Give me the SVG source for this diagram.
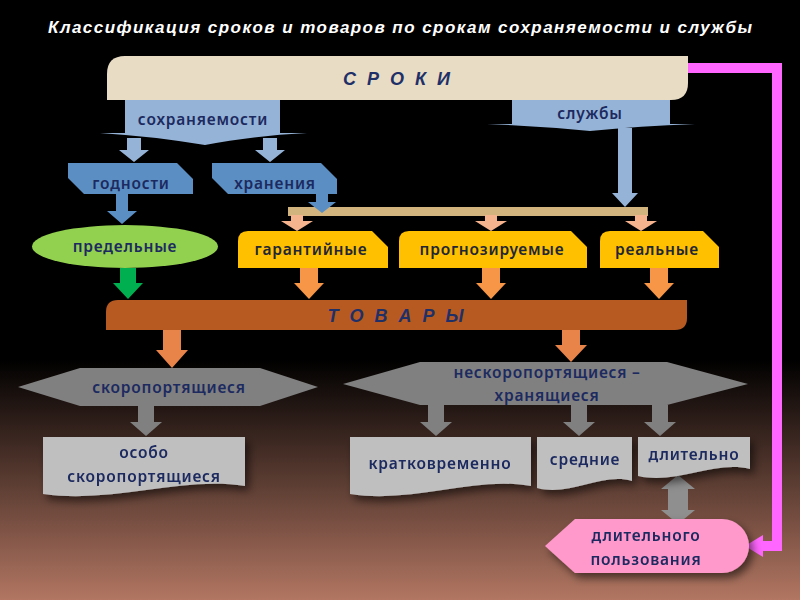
<svg xmlns="http://www.w3.org/2000/svg" width="800" height="600" viewBox="0 0 800 600">
<defs>
<linearGradient id="bg" x1="0" y1="0" x2="0" y2="1">
<stop offset="0" stop-color="#000"/>
<stop offset="0.6" stop-color="#000"/>
<stop offset="1" stop-color="#b27662"/>
</linearGradient>
<filter id="sh" x="-20%" y="-20%" width="150%" height="160%">
<feDropShadow dx="4" dy="5" stdDeviation="4" flood-color="#000" flood-opacity="0.55"/>
</filter>
<style>
.t{font-family:"Noto Sans","Open Sans",sans-serif;font-size:15.5px;font-weight:600;letter-spacing:0.8px;fill:#1c2a60;text-anchor:middle}
.ty{font-family:"Noto Sans","Open Sans",sans-serif;font-size:15.5px;font-weight:600;letter-spacing:0.8px;fill:#222634;text-anchor:middle}
.h{font-family:"Liberation Sans",Arial,sans-serif;font-size:18px;font-style:italic;font-weight:bold;fill:#1f3068;text-anchor:middle;letter-spacing:3px}
.lb{fill:#95b3d7}
.db{fill:#5b8fc4}
.pe{fill:#f5b48e}
.or{fill:#f79646}
.or2{fill:#e8844a}
.gr{fill:#808080}
.lg{fill:#bfbfbf}
.yl{fill:#ffc000}
</style>
</defs>
<rect x="0" y="0" width="800" height="600" fill="url(#bg)"/>
<text x="400" y="33" textLength="704" lengthAdjust="spacing" font-family="'Liberation Sans',Arial,sans-serif" font-size="17" font-weight="bold" font-style="italic" fill="#fff" text-anchor="middle">Классификация сроков и товаров по срокам сохраняемости и службы</text>

<g id="connectors">
<path d="M688,68 H777 V546 H762" fill="none" stroke="#ff66ff" stroke-width="10"/>
<polygon points="763,535 763,557 745,546" fill="#ff66ff"/>
<path class="lb" d="M127,138 L141,138 L141,150 L149,150 L134,162 L119,150 L127,150 Z"/>
<path class="lb" d="M263,138 L277,138 L277,150 L285,150 L270,162 L255,150 L263,150 Z"/>
<path class="lb" d="M618,128 L632,128 L632,193 L638,193 L625,207 L612,193 L618,193 Z"/>
<path class="db" d="M116,194 L128,194 L128,211 L137,211 L122,224 L107,211 L116,211 Z"/>
<rect x="288" y="207" width="360" height="9" fill="#d2b47f"/>
<path class="db" d="M316,194 L328,194 L328,202 L336,202 L322,213 L308,202 L316,202 Z"/>
<path class="pe" d="M291,215 L303,215 L303,221 L313,221 L297,231 L281,221 L291,221 Z"/>
<path class="pe" d="M485,215 L497,215 L497,221 L507,221 L491,231 L475,221 L485,221 Z"/>
<path class="pe" d="M635,215 L647,215 L647,221 L657,221 L641,231 L625,221 L635,221 Z"/>
<path fill="#00b050" d="M120,268 L136,268 L136,283 L143,283 L128,299 L113,283 L120,283 Z"/>
<path class="or" d="M300,268 L318,268 L318,283 L324,283 L309,299 L294,283 L300,283 Z"/>
<path class="or" d="M482,268 L500,268 L500,283 L506,283 L491,299 L476,283 L482,283 Z"/>
<path class="or" d="M650,268 L668,268 L668,283 L674,283 L659,299 L644,283 L650,283 Z"/>
<path class="or2" d="M163,330 L181,330 L181,350 L188,350 L172,368 L156,350 L163,350 Z"/>
<path class="or2" d="M562,330 L580,330 L580,345 L587,345 L571,362 L555,345 L562,345 Z"/>
<path class="gr" d="M138,406 L154,406 L154,422 L162,422 L146,436 L130,422 L138,422 Z"/>
<path class="gr" d="M428,405 L444,405 L444,422 L452,422 L436,436 L420,422 L428,422 Z"/>
<path class="gr" d="M571,405 L587,405 L587,422 L595,422 L579,436 L563,422 L571,422 Z"/>
<path class="gr" d="M652,405 L668,405 L668,422 L676,422 L660,436 L644,422 L652,422 Z"/>
<path fill="#8f8f8f" d="M678,475 L695,489 L688,489 L688,510 L695,510 L678,524 L661,510 L668,510 L668,489 L661,489 Z"/>
</g>

<g id="sroki">
<path d="M107,100 L107,74 Q107,56 125,56 L688,56 L688,83 Q688,100 671,100 Z" fill="#e8dcc4"/>
<text class="h" x="398" y="85">С Р О К И</text>
</g>
<g id="sohr">
<path class="lb" d="M125,100 H280 V133 H307 Q250,136 205,145 Q150,136 100,133 H125 Z"/>
<text class="t" x="203" y="125">сохраняемости</text>
</g>
<g id="sluzhby">
<path class="lb" d="M512,100 H670 V124 H695 Q640,126 590,131 Q540,126 487,124 H512 Z"/>
<text class="t" x="590" y="119">службы</text>
</g>
<g id="godnosti">
<polygon class="db" points="68,163 177,163 193,179 193,194 84,194 68,178"/>
<text class="t" x="131" y="189">годности</text>
</g>
<g id="hranenia">
<polygon class="db" points="212,163 321,163 337,179 337,194 228,194 212,178"/>
<text class="t" x="275" y="189">хранения</text>
</g>
<g id="predelnye">
<ellipse cx="125" cy="246.5" rx="93" ry="21.5" fill="#92d050"/>
<text class="t" x="125" y="252">предельные</text>
</g>
<g id="garant">
<path class="yl" d="M238,268 V241 Q238,231 248,231 H372 L388,247 V268 Z"/>
<text class="ty" x="311" y="255">гарантийные</text>
</g>
<g id="prognoz">
<path class="yl" d="M399,268 V241 Q399,231 409,231 H571 L587,247 V268 Z"/>
<text class="ty" x="492" y="255">прогнозируемые</text>
</g>
<g id="realnye">
<path class="yl" d="M600,268 V241 Q600,231 610,231 H703 L719,247 V268 Z"/>
<text class="ty" x="657" y="255">реальные</text>
</g>
<g id="tovary">
<path d="M106,330 V312 Q106,300 118,300 H687 V318 Q687,330 675,330 Z" fill="#b75a22"/>
<text class="h" x="397" y="322">Т О В А Р Ы</text>
</g>
<g id="skoro">
<polygon class="gr" points="18,387 80,368 260,368 318,387 260,406 80,406"/>
<text class="t" x="169" y="393">скоропортящиеся</text>
</g>
<g id="neskoro">
<polygon class="gr" points="343,384 420,362 667,362 748,384 667,405 420,405"/>
<text class="t" x="547" y="378">нескоропортящиеся –</text>
<text class="t" x="547" y="401">хранящиеся</text>
</g>
<g id="osobo" filter="url(#sh)">
<path class="lg" d="M43,437 H245 V486 C180,476 114,504 43,494 Z"/>
<text class="t" x="144" y="458">особо</text>
<text class="t" x="144" y="482">скоропортящиеся</text>
</g>
<g id="kratko" filter="url(#sh)">
<path class="lg" d="M350,437 H531 V486 C473,476 413,504 350,494 Z"/>
<text class="t" x="440" y="469">кратковременно</text>
</g>
<g id="srednie" filter="url(#sh)">
<path class="lg" d="M537,437 H632 V481 C602,472 570,497 537,488 Z"/>
<text class="t" x="585" y="465">средние</text>
</g>
<g id="dlitelno" filter="url(#sh)">
<path class="lg" d="M638,437 H750 V469 C714,460 677,485 638,476 Z"/>
<text class="t" x="694" y="460">длительно</text>
</g>
<g id="dlit-polz" filter="url(#sh)">
<path d="M545,546 L575,519 L722,519 A27,27 0 0 1 722,573 L575,573 Z" fill="#ff99cc"/>
<text class="t" x="646" y="541">длительного</text>
<text class="t" x="646" y="565">пользования</text>
</g>
</svg>
